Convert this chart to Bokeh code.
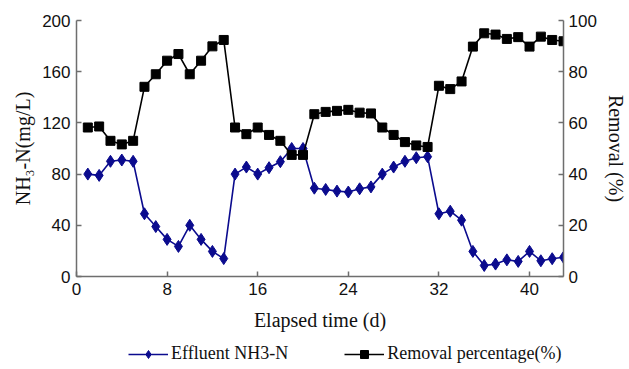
from bokeh.plotting import figure
from bokeh.layouts import column
from bokeh.models import Range1d, LinearAxis, FixedTicker, Legend, LegendItem
from bokeh.embed import file_html
from bokeh.resources import INLINE

days = list(range(1, 44))
effluent = [80, 79, 90, 91, 90, 49, 39, 29, 23.5, 40, 29, 19.6, 14,
            80, 85.5, 80, 85, 89.7, 100, 100, 69, 68, 66.7, 66, 68.5, 70,
            80, 85.5, 90, 92.8, 93.6, 49, 51, 44, 19.6, 8.6, 9.7, 13, 11.8,
            19.6, 12.3, 13.9, 15]
removal = [58.2, 58.6, 53, 51.6, 53, 74.1, 79, 84.3, 86.9, 79, 84.3, 89.9, 92.4,
           58.2, 55.6, 58.2, 55.3, 53, 47.5, 47.5, 63.4, 64.3, 64.7, 65.1, 64, 63.7,
           58.2, 55.3, 52.5, 51.2, 50.6, 74.5, 73.2, 76.2, 89.8, 95, 94.5, 92.8, 93.5,
           89.8, 93.7, 92.4, 91.9]
x_ticks = [0, 8, 16, 24, 32, 40]
left_ticks = [0, 40, 80, 120, 160, 200]
right_ticks = [0, 20, 40, 60, 80, 100]
series_names = ["Effluent NH3-N", "Removal percentage(%)"]

AX = "#6e6e6e"
BLUE = "#0b0b8e"

p = figure(width=629, height=336, output_backend="svg", toolbar_location=None,
           x_range=Range1d(0, 43), y_range=Range1d(0, 200),
           min_border_left=76, min_border_right=62, min_border_top=20,
           min_border_bottom=60)
p.extra_y_ranges = {"pct": Range1d(0, 100)}
p.xgrid.visible = False
p.ygrid.visible = False
p.outline_line_color = None
p.background_fill_color = "white"

def style(ax):
    ax.axis_line_color = AX
    ax.axis_line_width = 1.5
    ax.major_tick_line_color = AX
    ax.major_tick_line_width = 1.5
    ax.major_tick_in = 5
    ax.major_tick_out = 0
    ax.minor_tick_line_color = None
    ax.major_label_text_font = "Liberation Sans"
    ax.major_label_text_font_size = "17px"
    ax.major_label_text_color = "#111111"
    ax.axis_label_text_font = "Liberation Serif"
    ax.axis_label_text_font_size = "20px"
    ax.axis_label_text_font_style = "normal"
    ax.axis_label_text_color = "#111111"

xa = p.xaxis[0]
xa.ticker = FixedTicker(ticks=x_ticks)
xa.axis_label = "Elapsed time (d)"
style(xa)
xa.major_label_standoff = 6
xa.axis_label_standoff = 11

ya = p.yaxis[0]
ya.ticker = FixedTicker(ticks=left_ticks)
ya.axis_label = "NH\u2083-N(mg/L)"
style(ya)
ya.major_label_standoff = 6

ra = LinearAxis(y_range_name="pct", ticker=FixedTicker(ticks=right_ticks),
                axis_label="Removal (%)")
style(ra)
ra.major_label_standoff = 5
p.add_layout(ra, "right")

p.line(days, effluent, line_color=BLUE, line_width=1.6)
p.scatter(days, effluent, marker="diamond", size=12, fill_color=BLUE, line_color=BLUE)
p.line(days, removal, line_color="black", line_width=1.6, y_range_name="pct")
p.scatter(days, removal, marker="square", size=9, fill_color="black", line_color="black",
          y_range_name="pct")

# legend strip below the chart (series drawn off-range so only the legend shows)
lg = figure(width=629, height=33, output_backend="svg", toolbar_location=None,
            x_range=Range1d(1000, 1001), y_range=Range1d(1000, 1001),
            x_axis_location=None, y_axis_location=None,
            min_border=0)
lg.xgrid.visible = False
lg.ygrid.visible = False
lg.outline_line_color = None
l1 = lg.line(days, effluent, line_color=BLUE, line_width=1.6)
s1 = lg.scatter(days, effluent, marker="diamond", size=12, fill_color=BLUE, line_color=BLUE)
l2 = lg.line(days, removal, line_color="black", line_width=1.6)
s2 = lg.scatter(days, removal, marker="square", size=9, fill_color="black", line_color="black")

legend = Legend(items=[LegendItem(label=series_names[0], renderers=[l1, s1]),
                       LegendItem(label=series_names[1], renderers=[l2, s2])],
                orientation="horizontal", location=(52, 5),
                label_text_font="Liberation Serif", label_text_font_size="18px",
                label_text_color="#111111",
                border_line_color=None, background_fill_alpha=0,
                glyph_width=40, spacing=56, padding=2, margin=0, label_standoff=3)
lg.add_layout(legend, "center")

layout = column(p, lg, spacing=0)
open("out.html", "w").write(file_html(layout, INLINE))
